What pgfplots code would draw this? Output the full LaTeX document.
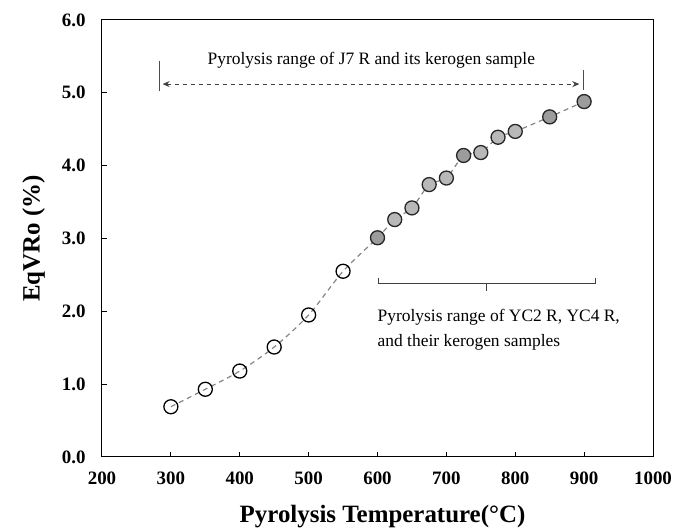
\documentclass[border=0pt]{standalone}
\usepackage{pgfplots}
\pgfplotsset{compat=1.18}
\usepackage{fontspec}
\setmainfont{Liberation Serif}
\usetikzlibrary{arrows.meta}
\definecolor{lightfill}{HTML}{B8B8B8}
\definecolor{darkfill}{HTML}{9C9C9C}
\definecolor{dashc}{HTML}{858585}
\begin{document}
\begin{tikzpicture}[x=1bp,y=1bp]
\begin{axis}[
  at={(0,0)}, anchor=south west,
  scale only axis, width=551bp, height=437bp,
  xmin=200, xmax=1000, ymin=0, ymax=6,
  xtick={200,300,...,1000}, ytick={0,1,...,6},
  tick align=inside, tick pos=left,
  major tick length=5bp,
  axis line style={line width=1bp, black},
  tick style={line width=1bp, black},
  /pgf/number format/assume math mode=true,
  /pgf/number format/fixed,
  /pgf/number format/fixed zerofill,
  /pgf/number format/precision=1,
  xticklabel style={/pgf/number format/precision=0, /pgf/number format/fixed zerofill=false, /pgf/number format/1000 sep={}},
  ticklabel style={font=\fontsize{19}{22}\selectfont\bfseries},
  xticklabel style={yshift=-11bp},
  yticklabel style={xshift=-13bp},
  xlabel={Pyrolysis Temperature(°C)},
  ylabel={EqVRo (\%)},
  xlabel style={font=\fontsize{25}{28}\selectfont\bfseries, yshift=-14bp, xshift=5bp},
  ylabel style={font=\fontsize{25}{28}\selectfont\bfseries, yshift=10bp},
  clip=false,
]
% open circles
\addplot[only marks, mark=o, mark size=7bp, mark options={line width=1.3bp, black, fill=white}]
coordinates {(300,0.69) (350,0.93) (400,1.18) (450,1.51) (500,1.95) (550,2.55)};
% light filled
\addplot[only marks, mark=*, mark size=7bp, mark options={line width=1.3bp, draw=black!85, fill=lightfill}]
coordinates {(625,3.26) (650,3.42) (675,3.74) (700,3.83) (750,4.18) (775,4.39) (800,4.47)};
% dark filled
\addplot[only marks, mark=*, mark size=7bp, mark options={line width=1.3bp, draw=black!85, fill=darkfill}]
coordinates {(600,3.01) (725,4.14) (850,4.67) (900,4.88)};
% dashed line
\addplot[dashc, line width=1.2bp, dash pattern=on 5bp off 4bp, smooth, tension=0.5, mark=none]
coordinates {(300,0.69) (350,0.93) (400,1.18) (450,1.51) (500,1.95) (550,2.55) (600,3.01) (625,3.26) (650,3.42) (675,3.74) (700,3.83) (725,4.14) (750,4.18) (775,4.39) (800,4.47) (850,4.67) (900,4.88)};
% top annotation
\draw[black!70, line width=1bp] (axis cs:284,5.03) -- (axis cs:284,5.44);
\draw[black!70, line width=1bp] (axis cs:899,5.04) -- (axis cs:899,5.32);
\draw[black!75, line width=1bp, dash pattern=on 4.5bp off 3.5bp, {Stealth[length=7bp,width=6bp]}-{Stealth[length=7bp,width=6bp]}] (axis cs:288,5.12) -- (axis cs:893,5.12);
\node[font=\fontsize{17.5}{21}\selectfont, inner sep=0pt] at (axis cs:591,5.45) {Pyrolysis range of J7 R and its kerogen sample};
% bracket
\draw[black!75, line width=1bp] (axis cs:601,2.46) -- (axis cs:601,2.38) -- (axis cs:916,2.38) -- (axis cs:916,2.46);
\draw[black!75, line width=1bp] (axis cs:758,2.38) -- (axis cs:758,2.28);
\node[font=\fontsize{17.5}{21}\selectfont, inner sep=0pt, anchor=west] at (axis cs:600,1.92) {Pyrolysis range of YC2 R, YC4 R,};
\node[font=\fontsize{17.5}{21}\selectfont, inner sep=0pt, anchor=west] at (axis cs:600,1.58) {and their kerogen samples};
\end{axis}
\pgfresetboundingbox
\path (-102,-75) rectangle (573,457);
\end{tikzpicture}
\end{document}
